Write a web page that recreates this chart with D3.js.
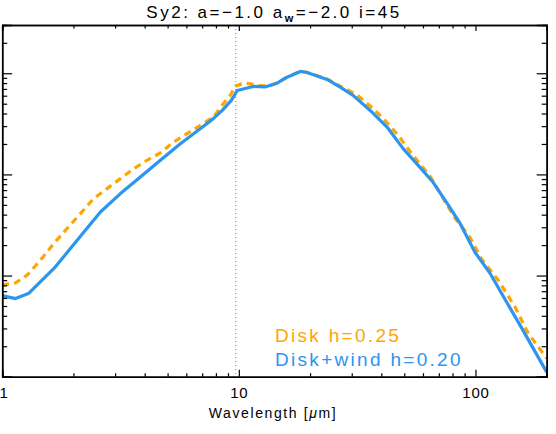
<!DOCTYPE html>
<html>
<head>
<meta charset="utf-8">
<script src="https://cdn.jsdelivr.net/npm/d3@7"></script>
<style>
  body { margin: 0; background: #fff; }
  svg text { font-family: "Liberation Sans", Arial, sans-serif; }
</style>
</head>
<body>
<svg width="556" height="434"></svg>
<script>
// Disk h=0.25 (orange dashed)
const diskWave = [1.0, 1.138, 1.275, 1.451, 1.651, 1.881, 2.141, 2.436, 2.775, 3.16, 3.594, 4.09, 4.66, 5.30, 6.04, 6.87, 7.82, 8.48, 9.20, 9.66, 10.64, 11.9, 13.35, 14.7, 16.0, 18.2, 19.4, 23.6, 26.8, 31.5, 37.0, 40.8, 47.2, 53.8, 64.3, 73.1, 81.9, 94.8, 106.2, 124.8, 146.8, 167.2, 200];
const diskFlux = [8.04, 8.47, 10.1, 14.2, 20.7, 29.2, 41.0, 57.7, 72.4, 90.9, 114, 138, 163, 209, 253, 305, 369, 481, 604, 746, 806, 758, 746, 817, 920, 1045, 1020, 880, 745, 614, 446, 356, 243, 160, 96, 58, 37, 23.9, 14.5, 9.0, 4.9, 2.68, 1.52];

// Disk+wind h=0.20 (blue solid)
const windWave = [1.0, 1.138, 1.291, 1.679, 2.141, 2.60, 3.16, 3.835, 4.66, 5.66, 6.87, 7.80, 8.51, 9.29, 9.85, 11.5, 12.9, 14.5, 16.0, 18.2, 19.4, 23.6, 26.8, 30.4, 35.9, 42.3, 49.4, 58.3, 66.2, 75.8, 86.0, 99.5, 115, 141.7, 156, 200];
const windFlux = [6.33, 5.92, 6.63, 12.2, 24.5, 42.5, 64.6, 94.3, 138, 201, 283, 356, 429, 539, 676, 741, 732, 798, 915, 1042, 1018, 869, 729, 604, 429, 294, 181, 117.5, 83.6, 51.9, 32.9, 17.0, 10.6, 4.55, 3.09, 1.11];

const silicateLine = 9.7;
const xMajor = [1, 10, 100];
const xMinor = [2, 3, 4, 5, 6, 7, 8, 9, 20, 30, 40, 50, 60, 70, 80, 90, 200];
const yMajor = [1, 10, 100, 1000];
const yMinor = [2, 3, 4, 5, 6, 7, 8, 9, 20, 30, 40, 50, 60, 70, 80, 90, 200, 300, 400, 500, 600, 700, 800, 900, 2000];
const legendItems = [
  {label: "Disk h=0.25", color: "#FFA500"},
  {label: "Disk+wind h=0.20", color: "#2B95F0"}
];

const svg = d3.select("svg");
const plotLeft = 2.2, plotRight = 546.7, plotTop = 25, plotBottom = 376.7;

const x = d3.scaleLog().domain([1, 200]).range([plotLeft, plotRight]);
const y = d3.scaleLog().domain([1, 3000]).range([plotBottom, plotTop]);

// vertical dotted line
svg.append("line")
  .attr("x1", x(silicateLine)).attr("x2", x(silicateLine))
  .attr("y1", plotTop).attr("y2", plotBottom)
  .attr("stroke", "#888").attr("stroke-width", 1)
  .attr("stroke-dasharray", "1,3");

const line = d3.line()
  .x(d => x(d[0]))
  .y(d => y(d[1]));

svg.append("path")
  .datum(diskWave.map((w, i) => [w, diskFlux[i]]))
  .attr("d", line)
  .attr("fill", "none")
  .attr("stroke", legendItems[0].color)
  .attr("stroke-width", 3.2)
  .attr("stroke-dasharray", "7,5");

svg.append("path")
  .datum(windWave.map((w, i) => [w, windFlux[i]]))
  .attr("d", line)
  .attr("fill", "none")
  .attr("stroke", legendItems[1].color)
  .attr("stroke-width", 3.2)
  .attr("stroke-linejoin", "round");

// axes, ticks pointing inward
function styleAxis(g) {
  g.selectAll("path").attr("stroke", "#000").attr("stroke-width", 1.5);
  g.selectAll("line").attr("stroke", "#000").attr("stroke-width", 1.2);
}

svg.append("g").attr("transform", `translate(0,${plotBottom})`)
  .call(d3.axisBottom(x).tickValues(xMinor).tickSize(-3.5).tickFormat(""))
  .call(styleAxis);
svg.append("g").attr("transform", `translate(0,${plotBottom})`)
  .call(d3.axisBottom(x).tickValues(xMajor).tickSize(-7).tickPadding(11).tickFormat(d3.format("d")))
  .call(styleAxis)
  .call(g => g.selectAll("text").attr("font-size", 15).attr("letter-spacing", 0.8).attr("fill", "#000"))
  // first label sits on the page edge: keep it inside
  .call(g => g.selectAll("text").filter(d => d === 1).attr("text-anchor", "start").attr("x", -plotLeft - 1));

svg.append("g").attr("transform", `translate(0,${plotTop})`)
  .call(d3.axisTop(x).tickValues(xMinor).tickSize(-3.5).tickFormat(""))
  .call(styleAxis);
svg.append("g").attr("transform", `translate(0,${plotTop})`)
  .call(d3.axisTop(x).tickValues(xMajor).tickSize(-6).tickFormat(""))
  .call(styleAxis);

svg.append("g").attr("transform", `translate(${plotLeft},0)`)
  .call(d3.axisLeft(y).tickValues(yMinor).tickSize(-5).tickFormat(""))
  .call(styleAxis);
svg.append("g").attr("transform", `translate(${plotLeft},0)`)
  .call(d3.axisLeft(y).tickValues(yMajor).tickSize(-10).tickFormat(""))
  .call(styleAxis);

svg.append("g").attr("transform", `translate(${plotRight},0)`)
  .call(d3.axisRight(y).tickValues(yMinor).tickSize(-5).tickFormat(""))
  .call(styleAxis);
svg.append("g").attr("transform", `translate(${plotRight},0)`)
  .call(d3.axisRight(y).tickValues(yMajor).tickSize(-10).tickFormat(""))
  .call(styleAxis);

// title
const title = svg.append("text")
  .attr("x", 274).attr("y", 18)
  .attr("text-anchor", "middle")
  .attr("font-size", 17)
  .attr("letter-spacing", 2.5);
title.append("tspan").text("Sy2: a=\u22121.0 a");
title.append("tspan").attr("font-size", 11).attr("font-weight", "bold").attr("dy", 4).text("w");
title.append("tspan").attr("dy", -4).text("=\u22122.0 i=45");

// x axis label
const xl = svg.append("text")
  .attr("x", 273).attr("y", 418)
  .attr("text-anchor", "middle")
  .attr("font-size", 14)
  .attr("letter-spacing", 1.6);
xl.append("tspan").text("Wavelength [");
xl.append("tspan").attr("font-style", "italic").text("\u03bc");
xl.append("tspan").text("m]");

// legend
svg.selectAll(".legend")
  .data(legendItems)
  .enter().append("text")
  .attr("x", 275)
  .attr("y", (d, i) => 342 + i * 23.5)
  .attr("font-size", 19)
  .attr("letter-spacing", 2.3)
  .attr("fill", d => d.color)
  .text(d => d.label);
</script>
</body>
</html>
